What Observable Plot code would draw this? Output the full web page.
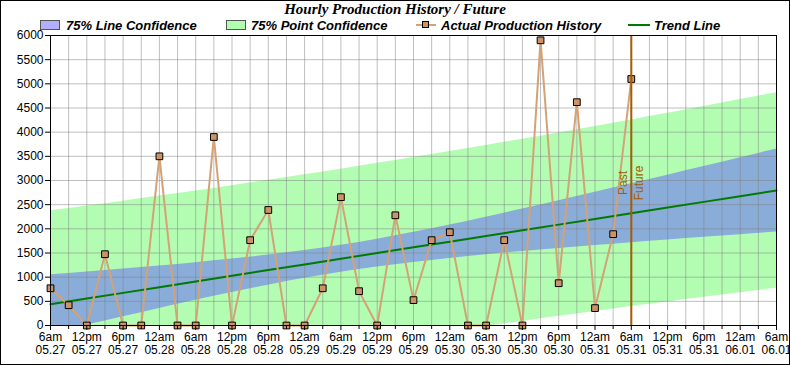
<!DOCTYPE html>
<html><head><meta charset="utf-8">
<script src="https://cdn.jsdelivr.net/npm/d3@7"></script>
<script src="https://cdn.jsdelivr.net/npm/@observablehq/plot@0.6"></script>
<style>
body{margin:0;background:#fff;}
#wrap{position:relative;width:790px;height:365px;overflow:hidden;background:#fff;}
#chart{position:absolute;left:0;top:0;}
#border{position:absolute;left:0;top:0;width:788px;height:363px;border:1px solid #000;pointer-events:none;}
#title{position:absolute;left:0;width:790px;top:1px;text-align:center;line-height:15px;font:italic bold 15px "Liberation Serif","Times New Roman",serif;}
.leg{position:absolute;top:18px;line-height:14px;font:italic bold 13px "Liberation Sans",Arial,sans-serif;white-space:nowrap;}
.sw{position:absolute;top:20px;width:18px;height:8px;border:1px solid #555;}
</style>
</head><body>
<div id="wrap">
  <div id="chart"></div>
  <div id="title"></div>
  <div id="legend"></div>
  <div id="border"></div>
</div>
<script>
const titleText = "Hourly Production History / Future";
const legendLabels = ["75% Line Confidence", "75% Point Confidence", "Actual Production History", "Trend Line"];

// hours after 6am 05.27
const productionHours = [0,3,6,9,12,15,18,21,24,27,30,33,36,39,42,45,48,51,54,57,60,63,66,69,72,75,78,81,84,87,90,93,96];
const productionValues = [770,420,0,1475,0,0,3500,0,0,3900,0,1765,2390,0,0,770,2655,710,0,2280,525,1765,1930,0,0,1765,0,5900,875,4620,360,1890,5100];

const bandHours = [0,6,12,18,24,30,36,42,48,54,60,66,72,78,84,90,96,102,108,114,120];
const trendValues = [440,558,675,793,911,1028,1146,1264,1381,1499,1617,1734,1852,1970,2087,2205,2323,2440,2558,2676,2793];
const lineConfLow = [-170,8,182,354,521,682,835,976,1101,1211,1306,1388,1463,1530,1594,1655,1713,1770,1825,1880,1934];
const lineConfHigh = [1050,1108,1168,1232,1300,1374,1457,1552,1661,1787,1928,2080,2241,2409,2580,2755,2933,3111,3290,3471,3652];
const pointConfLow = [-1492,-1356,-1223,-1092,-963,-837,-713,-592,-473,-357,-243,-131,-22,85,189,291,391,488,584,677,769];
const pointConfHigh = [2372,2472,2573,2678,2785,2893,3005,3119,3235,3355,3476,3600,3726,3855,3985,4119,4254,4392,4532,4674,4818];

const xTickHours = [0,6,12,18,24,30,36,42,48,54,60,66,72,78,84,90,96,102,108,114,120];
const xTickLabels = ["6am\n05.27","12pm\n05.27","6pm\n05.27","12am\n05.28","6am\n05.28","12pm\n05.28","6pm\n05.28","12am\n05.29","6am\n05.29","12pm\n05.29","6pm\n05.29","12am\n05.30","6am\n05.30","12pm\n05.30","6pm\n05.30","12am\n05.31","6am\n05.31","12pm\n05.31","6pm\n05.31","12am\n06.01","6am\n06.01"];
const xMinorHours = [3,9,15,21,27,33,39,45,51,57,63,69,75,81,87,93,99,105,111,117];
const yTicks = [0,500,1000,1500,2000,2500,3000,3500,4000,4500,5000,5500,6000];
const nowHour = 96;
const pastLabel = "Past", futureLabel = "Future";

const production = productionHours.map((h, i) => ({h, v: productionValues[i]}));
const bands = bandHours.map((h, i) => ({h, t: trendValues[i], lLo: lineConfLow[i], lHi: lineConfHigh[i], pLo: pointConfLow[i], pHi: pointConfHigh[i]}));
const gridX = [...xTickHours, ...xMinorHours];

const lineColor = "#d4a274", markerFill = "#cc9466", nowColor = "#a65c00", trendColor = "#007a00";

const plot = Plot.plot({
  width: 790, height: 365,
  marginTop: 35, marginLeft: 50, marginRight: 14, marginBottom: 40,
  style: {fontFamily: "'Liberation Sans', Arial, sans-serif", fontSize: "12px", background: "transparent", color: "#000"},
  x: {domain: [0, 120], axis: null},
  y: {domain: [0, 6000], axis: null},
  marks: [
    Plot.areaY(bands, {x: "h", y1: "pLo", y2: "pHi", fill: "#b3fdb3", curve: "natural", clip: true}),
    Plot.areaY(bands, {x: "h", y1: "lLo", y2: "lHi", fill: "#89acd8", curve: "natural", clip: true}),
    Plot.ruleX(gridX, {stroke: "#808080", strokeOpacity: 0.5}),
    Plot.ruleY(yTicks, {stroke: "#808080", strokeOpacity: 0.5}),
    Plot.line(bands, {x: "h", y: "t", stroke: trendColor, strokeWidth: 2}),
    Plot.line(production, {x: "h", y: "v", stroke: lineColor, strokeWidth: 2}),
    Plot.dot(production, {x: "h", y: "v", symbol: "square", r: 3.8, fill: markerFill, stroke: "#000", strokeWidth: 1}),
    Plot.ruleX([nowHour], {stroke: nowColor, strokeWidth: 2}),
    Plot.text([pastLabel], {x: nowHour, y: 2950, rotate: -90, dx: -8, fill: nowColor, fontSize: 12}),
    Plot.text([futureLabel], {x: nowHour, y: 2950, rotate: -90, dx: 8, fill: nowColor, fontSize: 12}),
    Plot.frame({stroke: "#000"}),
    Plot.axisY({ticks: yTicks, tickSize: 5, tickPadding: 2, tickFormat: d => String(d), label: null, fontSize: 12}),
    Plot.axisX({ticks: xTickHours, tickSize: 5, tickPadding: 1, tickFormat: (d, i) => xTickLabels[xTickHours.indexOf(d)], label: null, fontSize: 12, lineHeight: 1.08}),
    Plot.axisX({ticks: xMinorHours, tickSize: 4, tickFormat: () => "", label: null})
  ]
});
document.getElementById("chart").appendChild(plot);
document.getElementById("title").textContent = titleText;

const leg = document.getElementById("legend");
function add(html){ leg.insertAdjacentHTML("beforeend", html); }
add(`<div class="sw" style="left:40px;background:#b0b0ff"></div>`);
add(`<div class="leg" style="left:66px">${legendLabels[0]}</div>`);
add(`<div class="sw" style="left:226px;background:#b0ffb0"></div>`);
add(`<div class="leg" style="left:251px">${legendLabels[1]}</div>`);
add(`<svg style="position:absolute;left:414px;top:18px" width="24" height="14"><line x1="2" x2="22" y1="7" y2="7" stroke="${lineColor}" stroke-width="2"/><rect x="8.5" y="3.5" width="6" height="6" fill="${markerFill}" stroke="#000"/></svg>`);
add(`<div class="leg" style="left:441px">${legendLabels[2]}</div>`);
add(`<svg style="position:absolute;left:626px;top:18px" width="26" height="14"><line x1="2" x2="24" y1="7" y2="7" stroke="${trendColor}" stroke-width="2"/></svg>`);
add(`<div class="leg" style="left:654px">${legendLabels[3]}</div>`);
</script>
</body></html>
